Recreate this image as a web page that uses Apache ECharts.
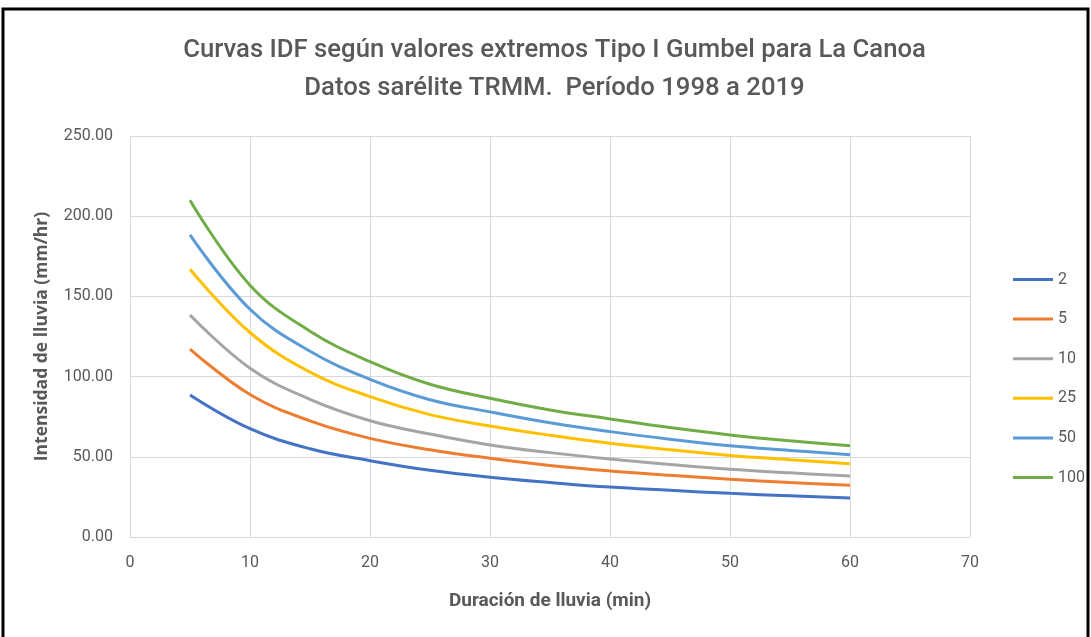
<!DOCTYPE html>
<html>
<head>
<meta charset="utf-8">
<script src="https://cdn.jsdelivr.net/npm/echarts@6/dist/echarts.min.js"></script>
<style>
  html, body { margin: 0; padding: 0; background: #fff; }
  #idfChart { width: 1091px; height: 637px; }
</style>
</head>
<body>
<div id="idfChart"></div>
<script>
  // duraciones (min) y periodos de retorno (años)
  const duraciones = [5, 10, 15, 20, 25, 30, 35, 40, 45, 50, 55, 60]
  const periodos = ['2', '5', '10', '25', '50', '100']

  // intensidades (mm/hr)
  const t2 = [88.5, 67.5, 55.0, 47.6, 41.6, 37.3, 34.0, 31.1, 29.1, 27.2, 25.7, 24.3]
  const t5 = [117.2, 88.8, 72.4, 61.5, 54.4, 49.1, 44.6, 41.2, 38.5, 36.0, 34.0, 32.2]
  const t10 = [138.4, 105.2, 85.8, 72.5, 64.2, 57.4, 52.6, 48.6, 45.2, 42.2, 40.0, 38.0]
  const t25 = [166.9, 127.5, 102.8, 87.5, 76.3, 69.2, 63.4, 58.4, 54.4, 50.8, 48.2, 45.7]
  const t50 = [188.3, 142.0, 115.8, 98.3, 85.6, 78.0, 71.2, 65.7, 61.0, 56.9, 54.0, 51.3]
  const t100 = [210.0, 157.0, 128.3, 109.3, 95.2, 86.5, 79.2, 73.6, 68.2, 63.6, 60.0, 56.9]

  const yTicks = ['0.00', '50.00', '100.00', '150.00', '200.00', '250.00']

  const valores = [t2, t5, t10, t25, t50, t100]
  const colores = ['#4472C4', '#ED7D31', '#A5A5A5', '#FFC000', '#5B9BD5', '#70AD47']

  let idfChart = echarts.init(document.getElementById('idfChart'))

  idfChart.setOption({
    animation: false,
    color: colores,
    legend: {
      orient: 'vertical',
      left: 1008,
      top: 265,
      icon: 'rect',
      itemWidth: 40,
      itemHeight: 3,
      itemGap: 20.6,
      textStyle: {
        color: '#595959',
        fontSize: 16,
        lineHeight: 19,
        fontFamily: 'Roboto, sans-serif'
      },
      data: periodos
    },
    grid: {
      left: 130,
      right: 121,
      top: 136,
      bottom: 100
    },
    xAxis: {
      type: 'value',
      min: 0,
      max: 70,
      interval: 10,
      name: 'Duración de lluvia (min)',
      nameLocation: 'middle',
      nameGap: 55,
      nameTextStyle: {
        color: '#595959',
        fontSize: 19,
        fontWeight: 'bold',
        fontFamily: 'Roboto, sans-serif'
      },
      axisLine: { lineStyle: { color: '#D9D9D9', width: 1 } },
      axisTick: { show: false },
      axisLabel: {
        color: '#595959',
        fontSize: 16,
        margin: 18,
        fontFamily: 'Roboto, sans-serif'
      },
      splitLine: { lineStyle: { color: '#D9D9D9', width: 1 } }
    },
    yAxis: {
      type: 'value',
      min: 0,
      max: 250,
      interval: 50,
      name: 'Intensidad de lluvia (mm/hr)',
      nameLocation: 'middle',
      nameGap: 79,
      nameTextStyle: {
        color: '#595959',
        fontSize: 17.5,
        fontWeight: 'bold',
        fontFamily: 'Open Sans, sans-serif'
      },
      axisLine: { show: true, lineStyle: { color: '#D9D9D9', width: 1 } },
      axisTick: { show: false },
      axisLabel: {
        color: '#595959',
        fontSize: 16,
        margin: 17,
        fontFamily: 'Roboto, sans-serif',
        formatter: function (v) {
          return yTicks[v / 50]
        }
      },
      splitLine: { lineStyle: { color: '#D9D9D9', width: 1 } }
    },
    graphic: [{
      type: 'rect',
      shape: { x: 3, y: 9, width: 1085, height: 640 },
      style: { fill: 'none', stroke: '#000', lineWidth: 3 },
      silent: true
    }, {
      // titulo del grafico
      type: 'text',
      x: 554.5,
      y: 32,
      silent: true,
      style: {
        text: 'Curvas IDF según valores extremos Tipo I Gumbel para La Canoa\nDatos sarélite TRMM.  Período 1998 a 2019',
        align: 'center',
        verticalAlign: 'top',
        fill: '#595959',
        fontFamily: 'Roboto, sans-serif',
        fontSize: 25.7,
        fontWeight: 500,
        lineHeight: 38
      }
    }],
    series: periodos.map(function (p, i) {
      return {
        name: p,
        type: 'line',
        smooth: 0.4,
        showSymbol: false,
        lineStyle: { width: 3 },
        data: duraciones.map(function (d, j) { return [d, valores[i][j]] })
      }
    })
  })
</script>
</body>
</html>
